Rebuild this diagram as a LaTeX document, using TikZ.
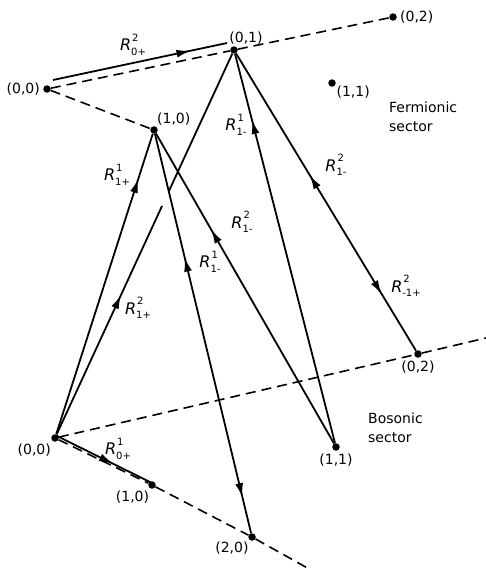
\documentclass[tikz,border=0pt]{standalone}
\usepackage{fontspec}
\setmainfont{DejaVu Sans}
\usetikzlibrary{arrows.meta,decorations.markings}

\newcommand{\Rop}[2]{{\fontsize{16}{16}\selectfont\textit{R}}\rlap{\kern1pt\raisebox{1.2ex}{\fontsize{10}{10}\selectfont #1}}\raisebox{-0.6ex}{\fontsize{10}{10}\selectfont #2}}

\begin{document}
\begin{tikzpicture}[x=1pt,y=-1pt,
dot/.style={circle,fill,inner sep=0pt,minimum size=7.5pt},
lbl/.style={font=\fontsize{14}{16}\selectfont,inner sep=1pt},
sec/.style={font=\fontsize{14}{19}\selectfont,align=left,anchor=west,inner sep=0pt},
axis/.style={dash pattern=on 10pt off 6pt,line width=1.6pt},
arr/.style={line width=1.8pt},
tip/.style={postaction={decorate},decoration={markings,mark=at position #1 with {\arrow{Latex[length=14pt,width=8pt]}}}},
twotips/.style 2 args={postaction={decorate},decoration={markings,
  mark=at position #1 with {\arrow{Latex[length=14pt,width=8pt]}},
  mark=at position #2 with {\arrowreversed{Latex[length=14pt,width=8pt]}}}}]
\useasboundingbox (0,0) rectangle (486,570);

% fermionic sector
\node[dot,label={[lbl,label distance=2pt]left:{(0,0)}}] (f00) at (47,89) {};
\node[dot,label={[lbl,xshift=12pt,label distance=1pt]above:{(0,1)}}] (f01) at (234,50) {};
\node[dot,label={[lbl,label distance=2pt]right:{(0,2)}}] (f02) at (393,17) {};
\node[dot,label={[lbl,label distance=0pt]60:{(1,0)}}] (f10) at (154,130) {};
\node[dot,label={[lbl,label distance=0pt]-30:{(1,1)}}] (f11) at (332,83) {};
\node[sec] (fsec) at (389,117) {Fermionic\\sector};

% bosonic sector
\node[dot,label={[lbl,label distance=2pt]-120:{(0,0)}}] (b00) at (55,438) {};
\node[dot,label={[lbl,label distance=1pt]-110:{(1,0)}}] (b10) at (152,485) {};
\node[dot,label={[lbl,label distance=0pt]-125:{(2,0)}}] (b20) at (252,537) {};
\node[dot,label={[lbl,label distance=2pt]below:{(0,2)}}] (b02) at (418,354) {};
\node[dot,label={[lbl,label distance=2pt]below:{(1,1)}}] (b11) at (336,447) {};
\node[sec] (bsec) at (368,428) {Bosonic\\sector};
\coordinate (bend1) at (311,570);
\coordinate (bend2) at (486,338);

% dashed axes
\draw[axis] (f00) -- (f01) -- (f02);
\draw[axis] (f00) -- (f10);
\draw[axis] (b00) -- (b10) -- (b20) -- (bend1);
\draw[axis] (b00) -- (b02) -- (bend2);

% operators
\draw[arr,tip=0.79] ([shift={(6,-9)}]f00.center) -- ([shift={(-7,-7)}]f01.center);
\draw[arr,tip=0.6] ([shift={(1,-2.5)}]b00.center) -- ([shift={(-1,-2.5)}]b10.center);
\draw[arr,tip=0.85] (b00) -- (f10);
\path (b00) -- (f01) coordinate[pos=0.60] (gapa) coordinate[pos=0.637] (gapb);
\draw[arr,tip=0.61] (b00) -- (gapa);
\draw[arr] (gapb) -- (f01);
\draw[arr,twotips={0.69}{0.09}] (b20) -- (f10);
\draw[arr,tip=0.69] (b11) -- (f10);
\draw[arr,tip=0.83] (b11) -- (f01);
\draw[arr,twotips={0.59}{0.19}] (b02) -- (f01);

% labels
\node[lbl] (r20p) at (133,45) {\Rop{2}{0+}};
\node[lbl] (r10p) at (118,449) {\Rop{1}{0+}};
\node[lbl] (r11p) at (117,175) {\Rop{1}{1+}};
\node[lbl] (r21p) at (138,308) {\Rop{2}{1+}};
\node[lbl] (r11ma) at (210,262) {\Rop{1}{1-}};
\node[lbl] (r21ma) at (242,222) {\Rop{2}{1-}};
\node[lbl] (r11mb) at (236,125) {\Rop{1}{1-}};
\node[lbl] (r21mb) at (336,165) {\Rop{2}{1-}};
\node[lbl] (r2m1p) at (406,286) {\Rop{2}{-1+}};
\end{tikzpicture}
\end{document}
